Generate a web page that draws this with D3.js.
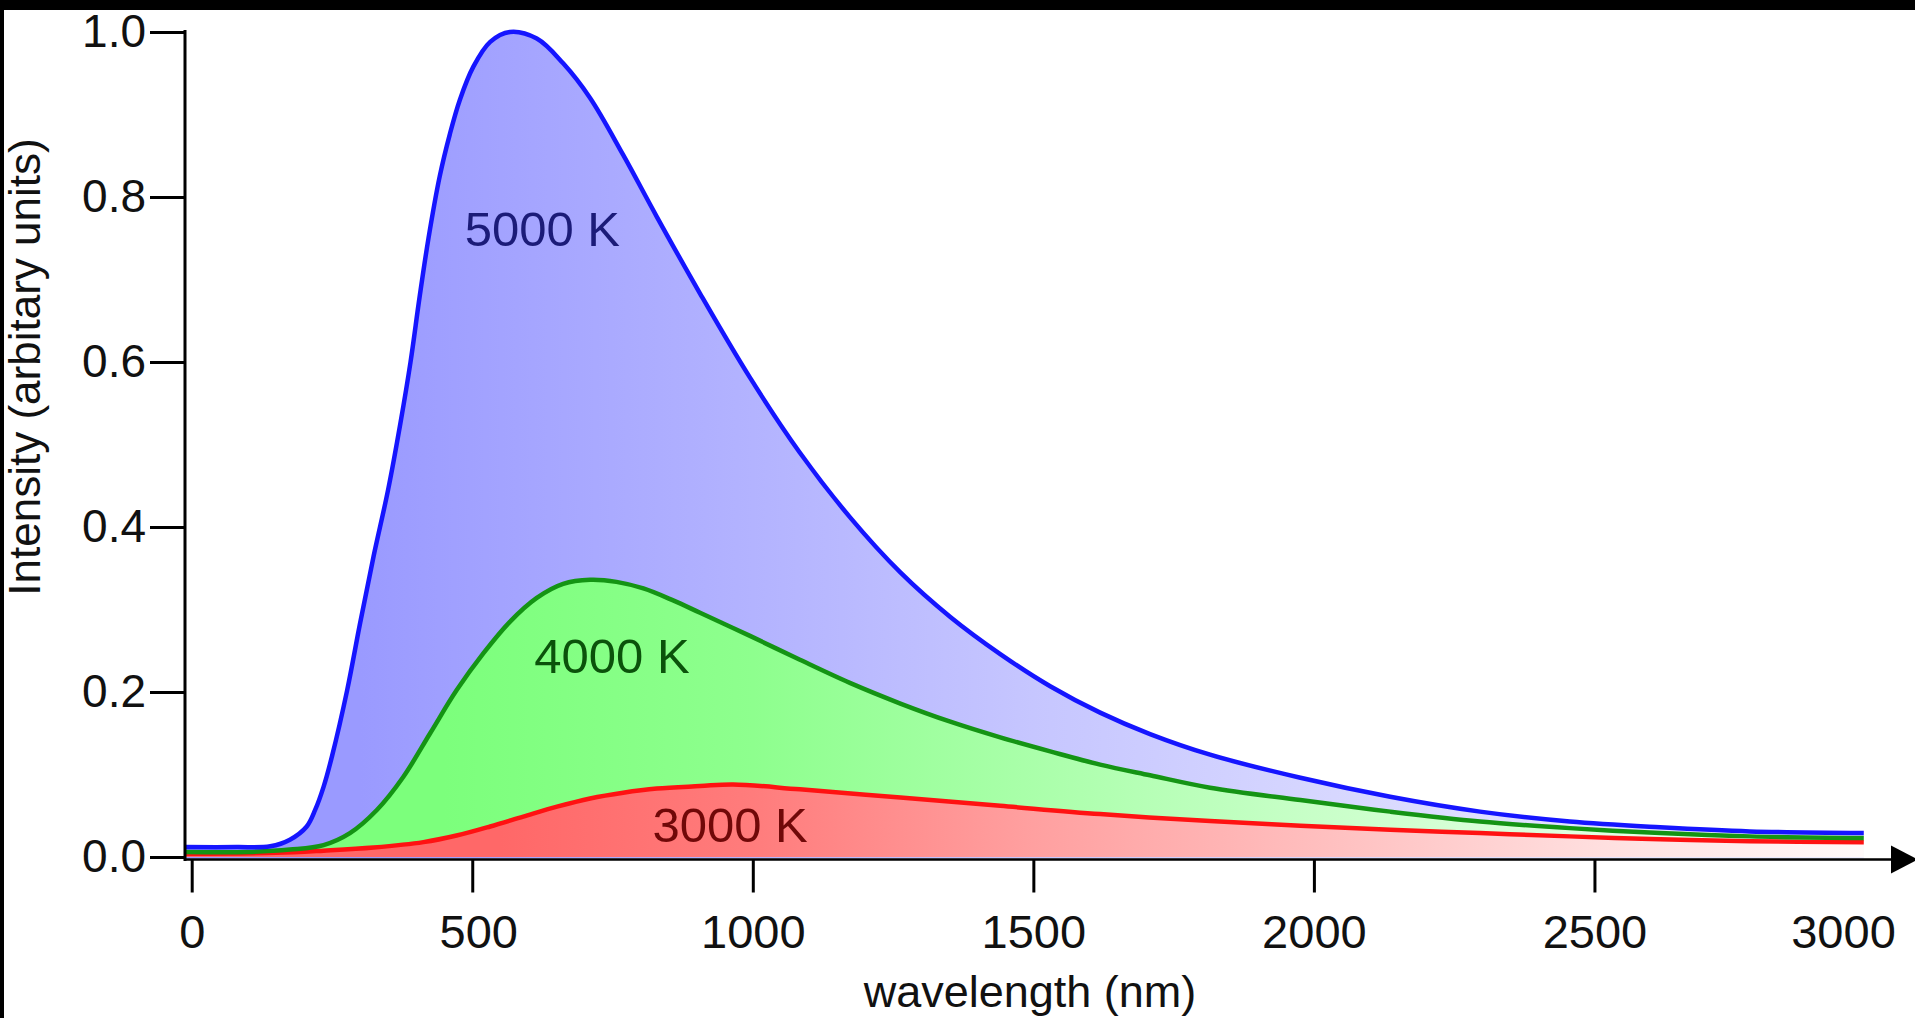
<!DOCTYPE html>
<html>
<head>
<meta charset="utf-8">
<script src="https://cdn.jsdelivr.net/npm/d3@7"></script>
<style>
  html, body { margin: 0; padding: 0; background: #fff; overflow: hidden; }
  svg { display: block; }
  text { font-family: "Liberation Sans", Arial, Helvetica, sans-serif; }
</style>
</head>
<body>
<svg id="chart" width="1915" height="1018"></svg>
<script>
// ---- data ----
const wavelength5000 = [-12, 80, 140, 175, 205, 220, 235, 250, 277, 300, 324, 350, 372, 390, 406, 422, 442, 460, 478, 502, 532, 567, 615, 662, 710, 769, 829, 906, 995, 1084, 1173, 1263, 1352, 1441, 1530, 1619, 1708, 1815, 1976, 2136, 2296, 2456, 2617, 2777, 2980];
const intensity5000  = [0.012, 0.012, 0.013, 0.021, 0.037, 0.057, 0.085, 0.122, 0.202, 0.283, 0.364, 0.445, 0.526, 0.600, 0.678, 0.750, 0.825, 0.876, 0.918, 0.958, 0.988, 1.000, 0.992, 0.962, 0.920, 0.851, 0.776, 0.683, 0.581, 0.490, 0.412, 0.345, 0.291, 0.246, 0.207, 0.175, 0.149, 0.124, 0.096, 0.073, 0.055, 0.043, 0.036, 0.031, 0.029];

const wavelength4000 = [-12, 100, 175, 235, 282, 330, 377, 425, 472, 520, 567, 615, 662, 710, 757, 805, 858, 906, 995, 1084, 1173, 1263, 1352, 1441, 1530, 1619, 1708, 1815, 1976, 2136, 2296, 2456, 2617, 2777, 2980];
const intensity4000  = [0.006, 0.006, 0.009, 0.0145, 0.029, 0.057, 0.097, 0.150, 0.202, 0.247, 0.285, 0.314, 0.331, 0.336, 0.3335, 0.3255, 0.311, 0.296, 0.268, 0.239, 0.211, 0.186, 0.164, 0.145, 0.128, 0.112, 0.099, 0.084, 0.069, 0.055, 0.043, 0.035, 0.029, 0.025, 0.023];

const wavelength3000 = [-12, 150, 235, 324, 413, 472, 532, 591, 651, 710, 769, 829, 906, 965, 1084, 1263, 1441, 1619, 1815, 1976, 2136, 2296, 2456, 2617, 2777, 2980];
const intensity3000  = [0.004, 0.005, 0.0077, 0.0115, 0.018, 0.026, 0.037, 0.049, 0.061, 0.071, 0.078, 0.083, 0.086, 0.088, 0.082, 0.072, 0.062, 0.052, 0.0435, 0.038, 0.033, 0.029, 0.025, 0.0215, 0.019, 0.018];

const seriesNames = ["5000 K", "4000 K", "3000 K"];
const xTickValues = [0, 500, 1000, 1500, 2000, 2500, 3000];
const yTickValues = [0, 0.2, 0.4, 0.6, 0.8, 1.0];
const xTitle = "wavelength (nm)";
const yTitle = "Intensity (arbitary units)";

// ---- drawing ----
const svg = d3.select("#chart");
const FONT = "\"Liberation Sans\", Arial, Helvetica, sans-serif";

const x = d3.scaleLinear().domain([0, 3000]).range([191.7, 1875]);
const y = d3.scaleLinear().domain([0, 1]).range([857, 32]);

svg.append("rect").attr("width", 1915).attr("height", 1018).attr("fill", "#fff");

// gradients
const defs = svg.append("defs");
function grad(id, stops) {
  const g = defs.append("linearGradient").attr("id", id)
    .attr("gradientUnits", "userSpaceOnUse")
    .attr("x1", x(stops[0][0])).attr("x2", x(stops[stops.length - 1][0]))
    .attr("y1", 0).attr("y2", 0);
  const span = stops[stops.length - 1][0] - stops[0][0];
  stops.forEach(s => g.append("stop").attr("offset", (s[0] - stops[0][0]) / span).attr("stop-color", s[1]));
}
grad("gBlue",  [[300, "#9a9aff"], [1000, "#b3b3ff"], [1500, "#c6c6ff"], [2000, "#d6d6ff"], [2500, "#e4e4ff"], [2980, "#eeeeff"]]);
grad("gGreen", [[450, "#7cff7c"], [1000, "#8eff8e"], [1500, "#aaffaa"], [2000, "#c8ffc8"], [2500, "#e2ffe2"], [2980, "#f6fff6"]]);
grad("gRed",   [[550, "#ff6868"], [1000, "#ff7c7c"], [1500, "#ffa0a0"], [2000, "#ffbebe"], [2500, "#ffdede"], [2980, "#fffafa"]]);

const series = [
  { name: seriesNames[0], wl: wavelength5000, val: intensity5000, fill: "url(#gBlue)",  stroke: "#1515ff", text: "#1b1b78", label: [625, 0.7406], base: 1.5 },
  { name: seriesNames[1], wl: wavelength4000, val: intensity4000, fill: "url(#gGreen)", stroke: "#149414", text: "#0b520b", label: [749, 0.223], base: 0 },
  { name: seriesNames[2], wl: wavelength3000, val: intensity3000, fill: "url(#gRed)",   stroke: "#ff1212", text: "#700808", label: [959.5, 0.018], base: 0 }
];
series.forEach(s => { s.points = s.wl.map((w, i) => [w, s.val[i]]); });

const curve = d3.curveCatmullRom.alpha(0.5);
const area = b => d3.area().x(d => x(d[0])).y0(y(0) + b).y1(d => y(d[1])).curve(curve);
const line = d3.line().x(d => x(d[0])).y(d => y(d[1])).curve(curve);

series.forEach(s => {
  svg.append("path").datum(s.points).attr("d", area(s.base)(s.points)).attr("fill", s.fill);
});
[...series].reverse().forEach(s => {
  svg.append("path").datum(s.points).attr("d", line).attr("fill", "none")
    .attr("stroke", s.stroke).attr("stroke-width", 4.5).attr("stroke-linejoin", "round").attr("stroke-linecap", "butt");
});

// series labels
series.forEach(s => {
  svg.append("text").attr("x", x(s.label[0])).attr("y", y(s.label[1]))
    .attr("text-anchor", "middle").attr("font-size", 49).attr("fill", s.text)
    .style("font-family", FONT).text(s.name);
});

// y axis
const yAxisG = svg.append("g").attr("transform", "translate(185,0)")
  .call(d3.axisLeft(y).tickValues(yTickValues).tickFormat(d3.format(".1f")).tickSize(35).tickPadding(4).tickSizeOuter(0));
yAxisG.select(".domain").remove();
yAxisG.selectAll(".tick line").attr("stroke", "#000").attr("stroke-width", 3);
yAxisG.selectAll(".tick text").attr("font-size", 46).attr("fill", "#111").style("font-family", FONT);
svg.append("line").attr("x1", 185).attr("x2", 185).attr("y1", 30).attr("y2", 861).attr("stroke", "#000").attr("stroke-width", 3);

// x axis
const xAxisY = 859.5;
const xAxisG = svg.append("g").attr("transform", `translate(0,${xAxisY})`)
  .call(d3.axisBottom(x).tickValues(xTickValues).tickFormat(d3.format("d")).tickSize(33).tickPadding(22).tickSizeOuter(0));
xAxisG.select(".domain").remove();
xAxisG.selectAll(".tick line").attr("stroke", "#000").attr("stroke-width", 3)
  .attr("display", d => d === 3000 ? "none" : null);
xAxisG.selectAll(".tick text").attr("font-size", 47).attr("fill", "#111").style("font-family", FONT)
  .attr("dx", d => d === 3000 ? -32 : (d === 500 ? 6 : 0));
svg.append("line").attr("x1", 184).attr("x2", 1895).attr("y1", xAxisY).attr("y2", xAxisY).attr("stroke", "#000").attr("stroke-width", 2.7);
svg.append("path").attr("d", `M1891,${xAxisY - 14}L1918,${xAxisY}L1891,${xAxisY + 14}Z`).attr("fill", "#000");

// axis titles
svg.append("text").attr("x", 1030).attr("y", 1007).attr("text-anchor", "middle")
  .attr("font-size", 45).attr("fill", "#111").style("font-family", FONT).text(xTitle);
svg.append("text").attr("transform", "translate(40,367) rotate(-90)").attr("text-anchor", "middle")
  .attr("font-size", 44).attr("fill", "#111").style("font-family", FONT).text(yTitle);

// black borders
svg.append("rect").attr("x", 0).attr("y", 0).attr("width", 1915).attr("height", 10).attr("fill", "#000");
svg.append("rect").attr("x", 0).attr("y", 0).attr("width", 4).attr("height", 1018).attr("fill", "#000");
</script>
</body>
</html>
